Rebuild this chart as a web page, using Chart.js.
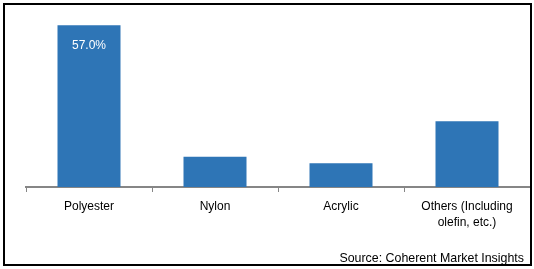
<!DOCTYPE html>
<html>
<head>
<meta charset="utf-8">
<script src="https://cdn.jsdelivr.net/npm/chart.js@4/dist/chart.umd.min.js"></script>
<style>
  html, body { margin: 0; padding: 0; background: #fff; }
  #wrap { position: relative; width: 534px; height: 269px; overflow: hidden; }
  #c { position: absolute; left: 0; top: 0; }
  #frame { position: absolute; left: 3px; top: 3px; width: 525px; height: 259px; border: 2px solid #000; pointer-events: none; }
  #src { position: absolute; right: 10px; top: 251px; font: 12.4px "Liberation Sans", Arial, sans-serif; color: #000; white-space: nowrap; }
</style>
</head>
<body>
<div id="wrap">
  <canvas id="c" width="534" height="269"></canvas>
  <div id="frame"></div>
  <div id="src">Source: Coherent Market Insights</div>
</div>
<script>
const categories = [['Polyester'], ['Nylon'], ['Acrylic'], ['Others (Including', 'olefin, etc.)']];
const shares = [57.0, 10.7, 8.4, 23.2];
const valueLabels = ['57.0%', '', '', ''];

const labelPlugin = {
  id: 'valueLabels',
  afterDatasetsDraw(chart) {
    const ctx = chart.ctx;
    const meta = chart.getDatasetMeta(0);
    ctx.save();
    ctx.fillStyle = '#ffffff';
    ctx.font = '12px "Liberation Sans", Arial, sans-serif';
    ctx.textAlign = 'center';
    ctx.textBaseline = 'middle';
    meta.data.forEach((bar, i) => {
      if (valueLabels[i]) ctx.fillText(valueLabels[i], bar.x, bar.y + 20);
    });
    ctx.restore();
  }
};

new Chart(document.getElementById('c'), {
  type: 'bar',
  data: {
    labels: categories,
    datasets: [{
      data: shares,
      backgroundColor: '#2E75B6',
      categoryPercentage: 1.0,
      barPercentage: 0.5
    }]
  },
  options: {
    responsive: false,
    animation: false,
    layout: { padding: { left: 26, right: 4, top: 11, bottom: 0 } },
    plugins: { legend: { display: false }, tooltip: { enabled: false } },
    scales: {
      x: {
        afterFit(scale) { scale.height = 82; },
        grid: { display: true, drawOnChartArea: false, drawTicks: true, tickLength: 5, color: '#868686', lineWidth: 1, offset: true },
        border: { display: true, color: '#868686', width: 2 },
        ticks: {
          color: '#000',
          padding: 7,
          maxRotation: 0,
          autoSkip: false,
          font: { family: '"Liberation Sans", Arial, sans-serif', size: 12, lineHeight: 1.33 }
        }
      },
      y: {
        display: false,
        min: 0,
        max: 62
      }
    }
  },
  plugins: [labelPlugin]
});
</script>
</body>
</html>
